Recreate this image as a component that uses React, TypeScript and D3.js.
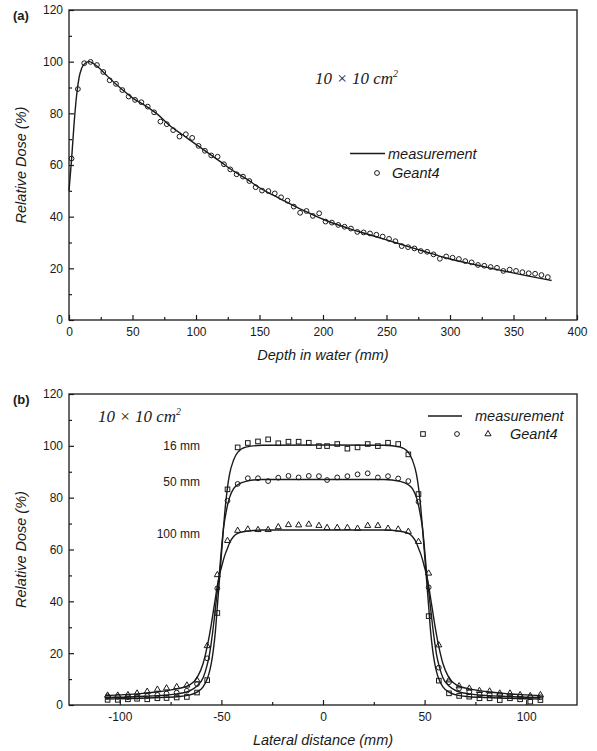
import React, { useRef, useEffect } from 'react';
import * as d3 from 'd3';

// (a) depth dose, 10x10 field
const pddDepth = [0, 2, 4, 6, 8, 10, 13, 16, 20, 25, 30, 40, 50, 60, 70, 80, 90, 100, 110, 120, 130, 140, 150, 160, 170, 180, 190, 200, 220, 240, 260, 280, 300, 320, 340, 360, 380];
const pddMeasured = [50, 62, 76, 87, 94, 97.5, 99.5, 100, 99, 97, 94.5, 90, 86, 83, 79.5, 75, 71.5, 68, 64.5, 61, 57.5, 54.5, 51.2, 48.5, 46, 43.5, 41.2, 39, 35.5, 32.5, 29.5, 26.5, 23.6, 21.4, 19.2, 17.2, 15.3];

const g4Depth = [2, 7, 12, 17, 22, 27, 32, 37, 42, 47, 52, 57, 62, 67, 72, 77, 82, 87, 92, 97, 102, 107, 112, 117, 122, 127, 132, 137, 142, 147, 152, 157, 162, 167, 172, 177, 182, 187, 192, 197, 202, 207, 212, 217, 222, 227, 232, 237, 242, 247, 252, 257, 262, 267, 272, 277, 282, 287, 292, 297, 302, 307, 312, 317, 322, 327, 332, 337, 342, 347, 352, 357, 362, 367, 372, 377];
const g4Dose = [62.5, 89.4, 99.4, 99.9, 98.7, 96, 92.8, 91.4, 89, 86.5, 85.2, 84.3, 82.6, 80.4, 76.8, 75.8, 73.5, 71, 71.9, 70.5, 67.4, 65.5, 63.7, 63.2, 60.3, 58.3, 56.4, 55.5, 53.8, 51.4, 50.1, 49.9, 49, 47.5, 46.2, 43.9, 41.5, 42.2, 40.3, 41.3, 38.1, 37.7, 36.8, 36.1, 35.4, 34.1, 33.9, 33.5, 33, 32.3, 31.4, 30.5, 28.6, 28.2, 27.7, 26.7, 26.4, 25.4, 23.7, 24.6, 24.1, 23.6, 22.8, 22.3, 21.3, 21, 20.5, 20.2, 19, 19.5, 19, 18.5, 18.1, 17.9, 17.4, 16.6];

// (b) lateral profiles at 16, 50, 100 mm
const depthLabels = ['16 mm', '50 mm', '100 mm'];
const profKnots = [-107, -100, -90, -80, -72, -66, -62, -59, -57, -56, -55, -54, -53, -52, -51, -50, -49, -48, -47, -46, -44, -42, -38, -30, 0, 30, 38, 42, 44, 46, 47, 48, 49, 50, 51, 52, 53, 54, 55, 56, 57, 59, 62, 66, 72, 80, 90, 100, 107];
const meas16 = [2.3, 2.4, 2.6, 2.9, 3.2, 3.8, 5, 7, 10, 12.5, 16, 21, 28, 38, 48, 58, 68, 77, 84, 89, 94.5, 97.5, 99.5, 100.2, 100.3, 100.2, 99.5, 97.5, 94.5, 89, 84, 77, 68, 58, 48, 38, 28, 21, 16, 12.5, 10, 7, 5, 3.8, 3.2, 2.9, 2.6, 2.4, 2.3];
const meas50 = [2.9, 3, 3.3, 3.7, 4.3, 5.3, 7.3, 10.5, 15.5, 19, 24, 30, 37, 44, 51, 60, 68, 73, 77, 80, 83.5, 85, 86.3, 87, 87, 87, 86.3, 85, 83.5, 80, 77, 73, 68, 60, 51, 44, 37, 30, 24, 19, 15.5, 10.5, 7.3, 5.3, 4.3, 3.7, 3.3, 3, 2.9];
const meas100 = [3.6, 3.9, 4.4, 5.2, 6.2, 7.6, 10.5, 16, 22.5, 26.5, 31, 36, 41, 46, 50, 53, 56, 58.5, 60.5, 62.5, 65, 66.2, 67, 67.5, 67.5, 67.5, 67, 66.2, 65, 62.5, 60.5, 58.5, 56, 53, 50, 46, 41, 36, 31, 26.5, 22.5, 16, 10.5, 7.6, 6.2, 5.2, 4.4, 3.9, 3.6];

const latPts = [-106, -101, -96, -91.5, -86.5, -81.5, -77, -72, -67, -62, -57, -52, -47, -42, -37, -32, -27, -22, -17, -12, -7, -2, 2, 7, 12, 17, 22, 27, 32, 37, 42, 47, 52, 57, 62, 67, 72, 77, 82, 87, 92, 97, 102, 107];
const g4Sq16 = [2, 2, 2.2, 2.4, 2.2, 2.6, 2.7, 2.9, 3.1, 4.8, 9.6, 35.5, 83.2, 99.4, 101.1, 101.7, 102.5, 101, 101.6, 101.6, 101.2, 99.9, 99.9, 100.7, 98.9, 99.4, 100.7, 99.9, 101.2, 100.7, 96.7, 81.4, 34.3, 9.4, 4.5, 3.5, 3.2, 2.6, 2.6, 1.9, 2.6, 2.2, 1.3, 1.9];
const g4Ci50 = [3.3, 3.2, 3, 3.2, 3.5, 3.9, 4.4, 4.8, 5.5, 8.1, 18, 45, 78.8, 85.3, 87.5, 87.5, 86.4, 87.7, 88.4, 87.8, 88.4, 88.3, 86.8, 87.8, 88.3, 89, 89.4, 87.8, 88.3, 87.4, 86.4, 78.4, 45.4, 14.4, 8.8, 6.4, 5.1, 4.2, 4, 3.9, 3.5, 3.2, 3, 3];
const g4Tr100 = [3.7, 3.7, 3.9, 4.5, 5.2, 6, 6.5, 7, 7.6, 9.6, 22.8, 50.2, 63.4, 67.3, 67.8, 67.6, 67.6, 68.7, 69.5, 69.4, 69.7, 69.2, 68.4, 68.4, 68.4, 68.1, 69.2, 69.2, 68.1, 67.8, 66.9, 63, 50.8, 23.1, 9.6, 7.3, 6.4, 5.5, 5.3, 4.5, 4.5, 3.9, 3.5, 3.9];

const yMajor = [0, 20, 40, 60, 80, 100, 120];
const yMinor = [10, 30, 50, 70, 90, 110];
const depthMajor = [0, 50, 100, 150, 200, 250, 300, 350, 400];
const depthMinor = [25, 75, 125, 175, 225, 275, 325, 375];
const latMajor = [-100, -50, 0, 50, 100];
const latMinor = [-75, -25, 25, 75];

const SANS = '"Liberation Sans", Arial, sans-serif';
const SERIF = '"Liberation Serif", "Times New Roman", serif';
const INK = '#1a1a1a';

const Chart = ({ width = 597, height = 751 }) => {
  const svgRef = useRef(null);

  const drawAxes = (svg, x, y, major, minor, box) => {
    const fmt = (d) => `${d}`;
    const gx = svg.append('g').attr('transform', `translate(0,${box.bottom})`);
    gx.call(d3.axisBottom(x).tickValues(major).tickSize(-5).tickPadding(7).tickFormat(fmt));
    gx.append('g').call(d3.axisBottom(x).tickValues(minor).tickSize(-3).tickFormat(() => ''));
    const gy = svg.append('g').attr('transform', `translate(${box.left},0)`);
    gy.call(d3.axisLeft(y).tickValues(yMajor).tickSize(-5).tickPadding(6));
    gy.append('g').call(d3.axisLeft(y).tickValues(yMinor).tickSize(-3).tickFormat(() => ''));
    [gx, gy].forEach((g) => {
      g.selectAll('.domain').remove();
      g.selectAll('line').attr('stroke', INK).attr('stroke-width', 1.2);
      g.selectAll('text').attr('fill', INK).attr('font-size', 12).attr('font-family', SANS);
    });
    svg.append('rect')
      .attr('x', box.left).attr('y', box.top)
      .attr('width', box.right - box.left).attr('height', box.bottom - box.top)
      .attr('fill', 'none').attr('stroke', INK).attr('stroke-width', 1.3);
  };

  const fieldLabel = (svg, px, py) => {
    const t = svg.append('text').attr('x', px).attr('y', py)
      .attr('font-family', SERIF).attr('font-style', 'italic').attr('font-size', 17).attr('fill', INK);
    t.append('tspan').text('10 \u00d7 10 cm');
    t.append('tspan').attr('dy', -7).attr('font-size', 10).text('2');
  };

  const drawDepthDose = (svg) => {
    const box = { left: 69, right: 577, top: 10, bottom: 320 };
    const x = d3.scaleLinear().domain([0, 400]).range([box.left, box.right]);
    const y = d3.scaleLinear().domain([0, 120]).range([box.bottom, box.top]);
    drawAxes(svg, x, y, depthMajor, depthMinor, box);

    const line = d3.line().x((d) => x(d[0])).y((d) => y(d[1])).curve(d3.curveMonotoneX);
    svg.append('path')
      .datum(d3.zip(pddDepth, pddMeasured))
      .attr('d', line)
      .attr('fill', 'none').attr('stroke', INK).attr('stroke-width', 1.4);

    svg.append('g').selectAll('circle')
      .data(d3.zip(g4Depth, g4Dose))
      .join('circle')
      .attr('cx', (d) => x(d[0])).attr('cy', (d) => y(d[1]))
      .attr('r', 2.4)
      .attr('fill', 'none').attr('stroke', INK).attr('stroke-width', 1);

    svg.append('text').attr('x', 13).attr('y', 20).text('(a)')
      .attr('font-family', SANS).attr('font-weight', 'bold').attr('font-size', 13).attr('fill', INK);
    svg.append('text').attr('x', (box.left + box.right) / 2).attr('y', 360).attr('text-anchor', 'middle')
      .attr('font-family', SANS).attr('font-style', 'italic').attr('font-size', 14.5).attr('fill', INK)
      .text('Depth in water (mm)');
    svg.append('text').attr('transform', `translate(26,${(box.top + box.bottom) / 2}) rotate(-90)`)
      .attr('text-anchor', 'middle')
      .attr('font-family', SANS).attr('font-style', 'italic').attr('font-size', 14.5).attr('fill', INK)
      .text('Relative Dose (%)');
    fieldLabel(svg, 315, 84);

    // legend
    svg.append('line').attr('x1', 350).attr('x2', 385).attr('y1', 153.5).attr('y2', 153.5)
      .attr('stroke', INK).attr('stroke-width', 1.4);
    svg.append('text').attr('x', 388).attr('y', 158.5).text('measurement')
      .attr('font-family', SANS).attr('font-style', 'italic').attr('font-size', 14.5).attr('fill', INK);
    svg.append('circle').attr('cx', 377).attr('cy', 173).attr('r', 2.4)
      .attr('fill', 'none').attr('stroke', INK).attr('stroke-width', 1);
    svg.append('text').attr('x', 392).attr('y', 178).text('Geant4')
      .attr('font-family', SANS).attr('font-style', 'italic').attr('font-size', 14.5).attr('fill', INK);
  };

  const marker = (sel, kind, cx, cy) => {
    if (kind === 'square') {
      sel.append('rect').attr('x', cx - 2.3).attr('y', cy - 2.3).attr('width', 4.6).attr('height', 4.6)
        .attr('fill', 'none').attr('stroke', INK).attr('stroke-width', 1);
    } else if (kind === 'circle') {
      sel.append('circle').attr('cx', cx).attr('cy', cy).attr('r', 2.4)
        .attr('fill', 'none').attr('stroke', INK).attr('stroke-width', 1);
    } else {
      sel.append('path').attr('d', d3.symbol(d3.symbolTriangle, 16)())
        .attr('transform', `translate(${cx},${cy})`)
        .attr('fill', 'none').attr('stroke', INK).attr('stroke-width', 1);
    }
  };

  const drawProfiles = (svg) => {
    const box = { left: 69, right: 577, top: 394, bottom: 705 };
    const x = d3.scaleLinear().domain([-125, 125]).range([box.left, box.right]);
    const y = d3.scaleLinear().domain([0, 120]).range([box.bottom, box.top]);
    drawAxes(svg, x, y, latMajor, latMinor, box);

    const line = d3.line().x((d) => x(d[0])).y((d) => y(d[1])).curve(d3.curveMonotoneX);
    [meas16, meas50, meas100].forEach((vals) => {
      svg.append('path')
        .datum(d3.zip(profKnots, vals))
        .attr('d', line)
        .attr('fill', 'none').attr('stroke', INK).attr('stroke-width', 1.4);
    });

    const series = [
      { kind: 'square', vals: g4Sq16 },
      { kind: 'circle', vals: g4Ci50 },
      { kind: 'triangle', vals: g4Tr100 },
    ];
    series.forEach((s) => {
      const g = svg.append('g');
      latPts.forEach((l, i) => marker(g, s.kind, x(l), y(s.vals[i])));
    });

    // depth labels next to the plateaus
    const labelY = [100, 86, 66];
    depthLabels.forEach((t, i) => {
      svg.append('text').attr('x', 200).attr('y', y(labelY[i]) + 4).attr('text-anchor', 'end')
        .attr('font-family', SANS).attr('font-size', 12).attr('fill', INK).text(t);
    });

    svg.append('text').attr('x', 13).attr('y', 404).text('(b)')
      .attr('font-family', SANS).attr('font-weight', 'bold').attr('font-size', 13).attr('fill', INK);
    svg.append('text').attr('x', (box.left + box.right) / 2).attr('y', 745).attr('text-anchor', 'middle')
      .attr('font-family', SANS).attr('font-style', 'italic').attr('font-size', 14.5).attr('fill', INK)
      .text('Lateral distance (mm)');
    svg.append('text').attr('transform', `translate(26,${(box.top + box.bottom) / 2}) rotate(-90)`)
      .attr('text-anchor', 'middle')
      .attr('font-family', SANS).attr('font-style', 'italic').attr('font-size', 14.5).attr('fill', INK)
      .text('Relative Dose (%)');
    fieldLabel(svg, 98, 422);

    // legend
    svg.append('line').attr('x1', 428).attr('x2', 462).attr('y1', 416).attr('y2', 416)
      .attr('stroke', INK).attr('stroke-width', 1.4);
    svg.append('text').attr('x', 475).attr('y', 421).text('measurement')
      .attr('font-family', SANS).attr('font-style', 'italic').attr('font-size', 14.5).attr('fill', INK);
    const lg = svg.append('g');
    marker(lg, 'square', 423, 434);
    marker(lg, 'circle', 457, 434);
    marker(lg, 'triangle', 488, 434);
    svg.append('text').attr('x', 510).attr('y', 439).text('Geant4')
      .attr('font-family', SANS).attr('font-style', 'italic').attr('font-size', 14.5).attr('fill', INK);
  };

  useEffect(() => {
    if (!svgRef.current) return;
    const svg = d3.select(svgRef.current);
    svg.selectAll('*').remove();
    svg.append('rect').attr('width', width).attr('height', height).attr('fill', '#fff');
    drawDepthDose(svg);
    drawProfiles(svg);
  }, [svgRef]);

  return (
    <svg ref={svgRef} width={width} height={height}
      style={{ position: 'absolute', left: 0, top: 0, display: 'block' }} />
  );
};

export default function App() {
  return <Chart />;
}
